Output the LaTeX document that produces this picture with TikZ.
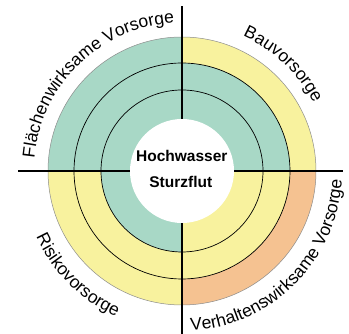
\documentclass[tikz,border=0pt]{standalone}
\usepackage{fontspec}
\setmainfont{Liberation Sans}
\usetikzlibrary{decorations.text}
\definecolor{ringteal}{RGB}{168,216,198}
\definecolor{ringyellow}{RGB}{248,242,158}
\definecolor{ringorange}{RGB}{245,194,145}
\tikzset{
  ringline/.style={draw=black, line width=0.7pt},
  outerline/.style={draw=black!45, line width=0.5pt},
  axisline/.style={draw=black, line width=1.2pt},
  centertext/.style={font=\bfseries\fontsize{15.5}{18}\selectfont, anchor=base, inner sep=0pt},
  arclabel/.style={decorate, decoration={text along path, text align=center,
      text={|\fontsize{17.5}{21}\selectfont|#1}}}
}
\begin{document}
\begin{tikzpicture}[x=1pt,y=1pt]
\useasboundingbox (0,0) rectangle (349,334);
\coordinate (C) at (182,163);
% quadrant fills
\fill[ringteal] (C) -- ([shift={(90:134)}]C) arc[start angle=90,end angle=180,radius=134] -- cycle;
\fill[ringyellow] (C) -- ([shift={(0:134)}]C) arc[start angle=0,end angle=90,radius=134] -- cycle;
\fill[ringteal] (C) -- ([shift={(0:108)}]C) arc[start angle=0,end angle=90,radius=108] -- cycle;
\fill[ringyellow] (C) -- ([shift={(180:134)}]C) arc[start angle=180,end angle=270,radius=134] -- cycle;
\fill[ringteal] (C) -- ([shift={(180:81)}]C) arc[start angle=180,end angle=270,radius=81] -- cycle;
\fill[ringorange] (C) -- ([shift={(270:134)}]C) arc[start angle=270,end angle=360,radius=134] -- cycle;
\fill[ringyellow] (C) -- ([shift={(270:108)}]C) arc[start angle=270,end angle=360,radius=108] -- cycle;
% ring outlines
\draw[outerline] (C) circle[radius=134];
\draw[ringline] (C) circle[radius=108];
\draw[ringline] (C) circle[radius=81];
% axes
\coordinate (axL) at (18,163);
\coordinate (axR) at (343,163);
\coordinate (axT) at (182,328);
\coordinate (axB) at (182,0);
\draw[axisline] (axL) -- (axR);
\draw[axisline] (axB) -- (axT);
% center
\node[circle, fill=white, minimum size=104pt, inner sep=0pt] (core) at (C) {};
\node[centertext] (hw) at (181.8,172) {Hochwasser};
\node[centertext] (sf) at (180.8,146.7) {Sturzflut};
% arc labels
\path[arclabel={Flächenwirksame Vorsorge}] ([shift={(178:148)}]C) arc[start angle=178,end angle=90,radius=148];
\path[arclabel={Bauvorsorge}] ([shift={(91.5:148)}]C) arc[start angle=91.5,end angle=1.5,radius=148];
\path[arclabel={Risikovorsorge}] ([shift={(180:160)}]C) arc[start angle=180,end angle=270,radius=160];
\path[arclabel={Verhaltenswirksame Vorsorge}] ([shift={(270:160)}]C) arc[start angle=270,end angle=360,radius=160];
\end{tikzpicture}
\end{document}
